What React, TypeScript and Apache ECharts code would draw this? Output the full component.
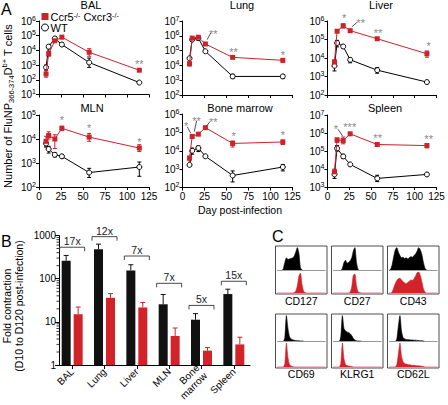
import React, { useEffect, useRef } from "react";
import * as echarts from "echarts";

const FONT = '"Liberation Sans", Arial, Helvetica, sans-serif';
const RED = "#cc2229";
const BRED = "#d2232a";
const GRAY = "#8a8a8a";

const koName = "Ccr5-/- Cxcr3-/-";
const wtName = "WT";

const days = [8, 11, 18, 26, 57, 114];

// BAL
const balKO = [250, 6000, 45000, 80000, 7500, 450];
const balKOLo = [150, 4000, 35000, 62000, 4000, 400];
const balKOHi = [420, 9000, 55000, 100000, 13000, 520];
const balWT = [700, 18000, 65000, 25000, 1500, 65];
const balWTLo = [450, 13000, 50000, 20000, 700, 55];
const balWTHi = [1000, 24000, 80000, 30000, 3000, 75];
const balStars = [[114, 1900]];
const balStarText = ["**"];
const balArrows: number[][] = [];

// Lung
const lungKO = [13000, 700000, 800000, 280000, 35000, 22000];
const lungKOLo = [9000, 550000, 600000, 240000, 30000, 17000];
const lungKOHi = [17000, 850000, 1000000, 320000, 40000, 27000];
const lungWT = [30000, 550000, 700000, 90000, 1800, 1800];
const lungWTLo = [25000, 450000, 500000, 80000, 1300, 1300];
const lungWTHi = [35000, 650000, 900000, 100000, 2500, 2300];
const lungStars = [[35, 2.1e6], [58, 1.2e5], [114, 7.2e4]];
const lungStarText = ["**", "**", "*"];
const lungArrows = [[32, 1.5e6, 28, 5.5e5]];

// Liver
const liverKO = [6000, 280000, 550000, 300000, 110000, 17000];
const liverKOLo = [4500, 240000, 420000, 260000, 100000, 11000];
const liverKOHi = [8000, 320000, 700000, 340000, 120000, 24000];
const liverWT = [3800, 65000, 42000, 8000, 2200, 500];
const liverWTLo = [2000, 40000, 35000, 5500, 1500, 420];
const liverWTHi = [6000, 90000, 50000, 10000, 3000, 580];
const liverStars = [[19, 2.1e6], [38, 1.1e6], [58, 3e5], [116, 6.2e4]];
const liverStarText = ["*", "**", "**", "*"];
const liverArrows = [[33.5, 8.1e5, 28, 4.9e5]];

// MLN
const mlnKO = [8000, 14000, 10000, 28000, 12000, 4200];
const mlnKOLo = [4500, 10000, 4000, 23000, 8000, 3000];
const mlnKOHi = [13000, 20000, 15000, 34000, 17000, 5800];
const mlnWT = [6500, 3800, 2200, 1900, 400, 680];
const mlnWTLo = [5000, 2600, 1800, 1600, 250, 280];
const mlnWTHi = [8000, 5000, 2600, 2200, 600, 1100];
const mlnStars = [[26, 8e4], [57, 3.5e4], [114, 9.8e3]];
const mlnStarText = ["*", "*", "*"];
const mlnArrows: number[][] = [];

// Bone marrow
const bmKO = [4000, 60000, 80000, 180000, 25000, 30000];
const bmKOLo = [2800, 50000, 70000, 160000, 16000, 22000];
const bmKOHi = [5000, 75000, 90000, 200000, 34000, 38000];
const bmWT = [1700, 10000, 14000, 5000, 450, 1300];
const bmWTLo = [1400, 6500, 9000, 4300, 200, 800];
const bmWTHi = [2000, 14000, 18000, 5800, 800, 1800];
const bmStars = [[4, 2.9e5], [16, 5.9e5], [35, 5.2e5], [58, 8.9e4], [114, 9.5e4]];
const bmStarText = ["*", "**", "**", "*", "*"];
const bmArrows = [[5.5, 2e5, 9.3, 8.9e4], [16, 4.3e5, 13.4, 1.1e5], [31, 3.8e5, 27.5, 2.2e5]];

// Spleen
const spKO = [7000, 420000, 380000, 900000, 230000, 200000];
const spKOLo = [4500, 300000, 250000, 800000, 180000, 150000];
const spKOHi = [10000, 500000, 600000, 1000000, 280000, 260000];
const spWT = [5000, 140000, 50000, 18000, 3000, 5000];
const spWTLo = [3000, 100000, 40000, 16000, 2000, 4300];
const spWTHi = [8000, 200000, 65000, 20000, 4500, 6000];
const spStars = [[9.5, 2.2e6], [25.5, 2.8e6], [57.5, 7.7e5], [116, 6.3e5]];
const spStarText = ["*", "***", "**", "**"];
const spArrows = [[12.2, 1.6e6, 17.3, 6.8e5]];

// Panel B
const bCats = ["BAL", "Lung", "Liver", "MLN", "Bone\nmarrow", "Spleen"];
const wtFold = [260, 480, 155, 25.5, 11.2, 44];
const wtFoldErr = [345, 630, 210, 43, 15.5, 57];
const koFold = [15, 36, 21.5, 4.7, 2.15, 3.0];
const koFoldErr = [22, 45, 28, 7.2, 2.55, 4.4];
const foldLabels = ["17x", "12x", "7x", "7x", "5x", "15x"];
const foldBracketY = [535, 940, 335, 78, 24, 87];
const bMinor = [2, 3, 4, 5, 6, 7, 8, 9, 20, 30, 40, 50, 60, 70, 80, 90, 200, 300, 400, 500, 600, 700, 800, 900];

// Panel C histograms (32 bins each, black = top, red = bottom)
const cLabels = ["CD127", "CD27", "CD43", "CD69", "KLRG1", "CD62L"];
const cd127Black = [0, 0, 0, 0, 0.08, 0.35, 0.55, 0.48, 0.5, 0.52, 0.55, 0.62, 0.8, 1, 0.75, 0.12, 0.02, 0, 0, 0, 0, 0, 0, 0, 0, 0, 0, 0, 0, 0, 0, 0];
const cd127Red = [0, 0, 0, 0, 0, 0, 0, 0, 0, 0, 0, 0.02, 0.1, 0.35, 0.8, 0.95, 0.4, 0.08, 0.02, 0, 0, 0, 0, 0, 0, 0, 0, 0, 0, 0, 0, 0];
const cd27Black = [0, 0, 0, 0, 0, 0, 0.1, 0.35, 0.45, 0.32, 0.35, 0.42, 0.55, 0.85, 1, 0.35, 0.05, 0, 0, 0, 0, 0, 0, 0, 0, 0, 0, 0, 0, 0, 0, 0];
const cd27Red = [0, 0, 0, 0, 0, 0, 0, 0, 0, 0, 0, 0.05, 0.3, 0.85, 0.9, 0.35, 0.06, 0.02, 0, 0, 0, 0, 0, 0, 0, 0, 0, 0, 0, 0, 0, 0];
const cd43Black = [0, 0.05, 0.25, 0.6, 0.9, 1, 0.8, 0.65, 0.55, 0.58, 0.52, 0.55, 0.5, 0.56, 0.6, 0.58, 0.65, 0.72, 0.85, 1, 0.9, 0.7, 0.35, 0.1, 0.02, 0, 0, 0, 0, 0, 0, 0];
const cd43Red = [0, 0, 0.05, 0.25, 0.45, 0.6, 0.68, 0.7, 0.62, 0.55, 0.48, 0.45, 0.5, 0.56, 0.62, 0.6, 0.68, 0.82, 0.97, 1, 0.85, 0.55, 0.2, 0.05, 0, 0, 0, 0, 0, 0, 0, 0];
const cd69Black = [0, 0, 0, 0, 0, 0.15, 1, 0.5, 0.18, 0.1, 0.07, 0.05, 0.04, 0.03, 0.03, 0.02, 0.02, 0.01, 0, 0, 0, 0, 0, 0, 0, 0, 0, 0, 0, 0, 0, 0];
const cd69Red = [0, 0, 0, 0, 0, 0.12, 1, 0.4, 0.1, 0.04, 0.02, 0, 0, 0, 0, 0, 0, 0, 0, 0, 0, 0, 0, 0, 0, 0, 0, 0, 0, 0, 0, 0];
const klrg1Black = [0, 0, 0, 0, 0, 0.2, 1, 0.5, 0.4, 0.37, 0.34, 0.3, 0.22, 0.12, 0.06, 0.03, 0.02, 0.02, 0.01, 0, 0, 0, 0, 0, 0, 0, 0, 0, 0, 0, 0, 0];
const klrg1Red = [0, 0, 0, 0, 0, 0.15, 1, 0.35, 0.1, 0.06, 0.04, 0.03, 0.02, 0, 0, 0, 0, 0, 0, 0, 0, 0, 0, 0, 0, 0, 0, 0, 0, 0, 0, 0];
const cd62lBlack = [0, 0, 0, 0, 0, 0.1, 0.6, 1, 0.4, 0.15, 0.1, 0.08, 0.07, 0.07, 0.06, 0.06, 0.05, 0.05, 0.04, 0.04, 0.03, 0.03, 0.02, 0, 0, 0, 0, 0, 0, 0, 0, 0];
const cd62lRed = [0, 0, 0, 0, 0, 0.1, 0.55, 1, 0.45, 0.22, 0.15, 0.12, 0.1, 0.09, 0.08, 0.07, 0.07, 0.06, 0.05, 0.05, 0.04, 0.03, 0.02, 0, 0, 0, 0, 0, 0, 0, 0, 0];

const panels = [
  { title: "BAL", left: 39, top: 21, width: 110, height: 73.5, min: 10, max: 1e6, xLabels: false, tx: 91, ty: 4.5, ko: balKO, koLo: balKOLo, koHi: balKOHi, wt: balWT, wtLo: balWTLo, wtHi: balWTHi, stars: balStars, starText: balStarText, arrows: balArrows },
  { title: "Lung", left: 182.5, top: 21, width: 110, height: 74, min: 100, max: 1e7, xLabels: false, tx: 242, ty: 5, ko: lungKO, koLo: lungKOLo, koHi: lungKOHi, wt: lungWT, wtLo: lungWTLo, wtHi: lungWTHi, stars: lungStars, starText: lungStarText, arrows: lungArrows },
  { title: "Liver", left: 327.5, top: 21, width: 109, height: 74, min: 100, max: 1e6, xLabels: false, tx: 381, ty: 5, ko: liverKO, koLo: liverKOLo, koHi: liverKOHi, wt: liverWT, wtLo: liverWTLo, wtHi: liverWTHi, stars: liverStars, starText: liverStarText, arrows: liverArrows },
  { title: "MLN", left: 39, top: 115, width: 110, height: 72, min: 100, max: 1e5, xLabels: true, tx: 92, ty: 108, ko: mlnKO, koLo: mlnKOLo, koHi: mlnKOHi, wt: mlnWT, wtLo: mlnWTLo, wtHi: mlnWTHi, stars: mlnStars, starText: mlnStarText, arrows: mlnArrows },
  { title: "Bone marrow", left: 182.5, top: 114, width: 110, height: 73.5, min: 100, max: 1e6, xLabels: true, tx: 240, ty: 108, ko: bmKO, koLo: bmKOLo, koHi: bmKOHi, wt: bmWT, wtLo: bmWTLo, wtHi: bmWTHi, stars: bmStars, starText: bmStarText, arrows: bmArrows },
  { title: "Spleen", left: 327.5, top: 115, width: 109, height: 72, min: 1000, max: 1e7, xLabels: true, tx: 385, ty: 108, ko: spKO, koLo: spKOLo, koHi: spKOHi, wt: spWT, wtLo: spWTLo, wtHi: spWTHi, stars: spStars, starText: spStarText, arrows: spArrows },
];

const cBlack = [cd127Black, cd27Black, cd43Black, cd69Black, klrg1Black, cd62lBlack];
const cRed = [cd127Red, cd27Red, cd43Red, cd69Red, klrg1Red, cd62lRed];
const cBoxX = [275.5, 331.5, 387.5];
const cBoxW = 51.5;
const cRows = [
  { y: 246, h: 48, blackH: 23, labelY: 301 },
  { y: 314, h: 54, blackH: 26, labelY: 374 },
];

function txt(text: string, x: number, y: number, size: number, extra: any = {}, rich?: any, rotation = 0) {
  const style: any = {
    text,
    fill: extra.fill || "#000",
    fontSize: size,
    fontFamily: FONT,
    align: extra.align || "center",
    verticalAlign: extra.verticalAlign || "middle",
    textAlign: extra.align || "center",
    textVerticalAlign: extra.verticalAlign || "middle",
  };
  if (extra.lineHeight) style.lineHeight = extra.lineHeight;
  if (rich) style.rich = rich;
  return { type: "text", x, y, rotation, silent: true, style };
}

function errBarSeries(i: number, lo: number[], hi: number[], color: string) {
  return {
    type: "custom",
    xAxisIndex: i,
    yAxisIndex: i,
    silent: true,
    z: 1,
    data: days.map((d, j) => [d, lo[j], hi[j]]),
    encode: { x: 0, y: [1, 2] },
    renderItem: (params: any, api: any) => {
      const x = api.value(0);
      const a = api.coord([x, api.value(1)]);
      const b = api.coord([x, api.value(2)]);
      const st = { stroke: color, lineWidth: 1 };
      return {
        type: "group",
        children: [
          { type: "line", shape: { x1: a[0], y1: a[1], x2: b[0], y2: b[1] }, style: st },
          { type: "line", shape: { x1: a[0] - 2, y1: a[1], x2: a[0] + 2, y2: a[1] }, style: st },
          { type: "line", shape: { x1: b[0] - 2, y1: b[1], x2: b[0] + 2, y2: b[1] }, style: st },
        ],
      };
    },
  };
}

function buildOption() {
  const grid: any[] = [];
  const xAxis: any[] = [];
  const yAxis: any[] = [];
  const series: any[] = [];
  const graphic: any[] = [];
  const axisText = { color: "#000", fontSize: 10, fontFamily: FONT };
  const supRich = { s: { fontSize: 7, fontFamily: FONT, color: "#000", verticalAlign: "top" } };

  panels.forEach((p, i) => {
    grid.push({ left: p.left, top: p.top, width: p.width, height: p.height, outerBoundsMode: "none" });
    xAxis.push({
      type: "value", gridIndex: i, min: 0, max: 125, interval: 25,
      axisLine: { show: true, onZero: false, lineStyle: { color: "#000", width: 1 } },
      axisTick: { show: true, length: 3, lineStyle: { color: "#000", width: 1 } },
      axisLabel: { show: p.xLabels, ...axisText, margin: 4, showMinLabel: true, showMaxLabel: true },
      splitLine: { show: false },
    });
    yAxis.push({
      type: "log", logBase: 10, gridIndex: i, min: p.min, max: p.max,
      axisLine: { show: true, onZero: false, lineStyle: { color: "#000", width: 1 } },
      axisTick: { show: true, length: 3, lineStyle: { color: "#000", width: 1 } },
      axisLabel: {
        ...axisText, margin: 3, lineHeight: 13, showMinLabel: true, showMaxLabel: true,
        formatter: (v: number) => `10{s|${Math.round(Math.log10(v))}}`,
        rich: supRich,
      },
      splitLine: { show: false },
    });
    graphic.push(txt(p.title, p.tx, p.ty, 11));

    series.push(errBarSeries(i, p.wtLo, p.wtHi, "#000"));
    series.push(errBarSeries(i, p.koLo, p.koHi, RED));
    series.push({
      type: "line", name: wtName, xAxisIndex: i, yAxisIndex: i, z: 3,
      data: days.map((d, j) => [d, p.wt[j]]),
      symbol: "circle", symbolSize: 5, showAllSymbol: true,
      itemStyle: { color: "#fff", borderColor: "#000", borderWidth: 1 },
      lineStyle: { color: "#000", width: 1 },
      emphasis: { disabled: true }, silent: true,
    });
    series.push({
      type: "line", name: koName, xAxisIndex: i, yAxisIndex: i, z: 4,
      data: days.map((d, j) => [d, p.ko[j]]),
      symbol: "rect", symbolSize: 5, showAllSymbol: true,
      itemStyle: { color: RED, borderWidth: 0 },
      lineStyle: { color: RED, width: 1 },
      emphasis: { disabled: true }, silent: true,
    });
    series.push({
      type: "custom", xAxisIndex: i, yAxisIndex: i, silent: true, clip: false, z: 5,
      data: p.stars.map((s) => [s[0], s[1]]),
      encode: { x: 0, y: 1 },
      renderItem: (params: any, api: any) => {
        const c = api.coord([api.value(0), api.value(1)]);
        return {
          type: "text", x: c[0], y: c[1] + 2.5,
          style: {
            text: p.starText[params.dataIndex], fill: GRAY, fontSize: 11, fontFamily: FONT,
            align: "center", verticalAlign: "middle", textAlign: "center", textVerticalAlign: "middle",
          },
        };
      },
    });
    if (p.arrows.length) {
      series.push({
        type: "custom", xAxisIndex: i, yAxisIndex: i, silent: true, clip: false, z: 5,
        data: p.arrows,
        encode: { x: [0, 2], y: [1, 3] },
        renderItem: (params: any, api: any) => {
          const a = api.coord([api.value(0), api.value(1)]);
          const b = api.coord([api.value(2), api.value(3)]);
          return { type: "line", shape: { x1: a[0], y1: a[1], x2: b[0], y2: b[1] }, style: { stroke: "#222", lineWidth: 0.8 } };
        },
      });
    }
  });

  // ---- Panel B ----
  const bi = grid.length;
  grid.push({ left: 56, top: 235.5, width: 194, height: 129.5, outerBoundsMode: "none" });
  xAxis.push({
    type: "category", gridIndex: bi, data: bCats,
    axisLine: { show: true, lineStyle: { color: "#000", width: 1 } },
    axisTick: { show: true, alignWithLabel: true, length: 4, lineStyle: { color: "#000" } },
    axisLabel: { ...axisText, rotate: 45, interval: 0, margin: 5, lineHeight: 11 },
    splitLine: { show: false },
  });
  yAxis.push({
    type: "log", logBase: 10, gridIndex: bi, min: 1, max: 1000, offset: -3,
    axisLine: { show: true, onZero: false, lineStyle: { color: "#000", width: 1 } },
    axisTick: { show: true, length: 4, lineStyle: { color: "#000" } },
    axisLabel: { ...axisText, margin: 3, formatter: (v: number) => String(Math.round(v)) },
    splitLine: { show: false },
  });
  series.push({
    type: "bar", xAxisIndex: bi, yAxisIndex: bi, data: wtFold, barWidth: 9, barGap: "33%",
    itemStyle: { color: "#111" }, silent: true, z: 2,
  });
  series.push({
    type: "bar", xAxisIndex: bi, yAxisIndex: bi, data: koFold, barWidth: 9, barGap: "33%",
    itemStyle: { color: BRED }, silent: true, z: 2,
  });
  const barErr = (vals: number[], tops: number[], off: number, color: string) => ({
    type: "custom", xAxisIndex: bi, yAxisIndex: bi, silent: true, z: 1,
    data: vals.map((v, j) => [j, v, tops[j]]),
    encode: { x: 0, y: [1, 2] },
    renderItem: (params: any, api: any) => {
      const j = api.value(0);
      const b = api.coord([j, api.value(1)]);
      const t = api.coord([j, api.value(2)]);
      const x = b[0] + off;
      const st = { stroke: color, lineWidth: 1 };
      return {
        type: "group",
        children: [
          { type: "line", shape: { x1: x, y1: b[1], x2: x, y2: t[1] }, style: st },
          { type: "line", shape: { x1: x - 2.5, y1: t[1], x2: x + 2.5, y2: t[1] }, style: st },
        ],
      };
    },
  });
  series.push(barErr(wtFold, wtFoldErr, -6, "#111"));
  series.push(barErr(koFold, koFoldErr, 6, BRED));
  series.push({
    type: "custom", xAxisIndex: bi, yAxisIndex: bi, silent: true, clip: false, z: 3,
    data: foldBracketY.map((y, j) => [j, y]),
    encode: { x: 0, y: 1 },
    renderItem: (params: any, api: any) => {
      const c = api.coord([api.value(0), api.value(1)]);
      const h = 12.5;
      return {
        type: "group",
        children: [
          {
            type: "polyline",
            shape: { points: [[c[0] - h, c[1] + 4], [c[0] - h, c[1]], [c[0] + h, c[1]], [c[0] + h, c[1] + 4]] },
            style: { stroke: "#333", fill: "none", lineWidth: 0.9 },
          },
          {
            type: "text", x: c[0], y: c[1] - 0.5,
            style: {
              text: foldLabels[params.dataIndex], fill: "#222", fontSize: 10.5, fontFamily: FONT,
              align: "center", verticalAlign: "bottom", textAlign: "center", textVerticalAlign: "bottom",
            },
          },
        ],
      };
    },
  });
  series.push({
    type: "custom", xAxisIndex: bi, yAxisIndex: bi, silent: true, clip: false, z: 3,
    data: bMinor.map((v) => [0, v]),
    encode: { x: 0, y: 1 },
    renderItem: (params: any, api: any) => {
      const c = api.coord([0, api.value(1)]);
      const x0 = params.coordSys.x + 3;
      return { type: "line", shape: { x1: x0 - 2.5, y1: c[1], x2: x0, y2: c[1] }, style: { stroke: "#000", lineWidth: 0.8 } };
    },
  });

  // ---- Panel C ----
  cLabels.forEach((lab, k) => {
    const row = cRows[Math.floor(k / 3)];
    const bx = cBoxX[k % 3];
    graphic.push({
      type: "rect", silent: true,
      shape: { x: bx, y: row.y, width: cBoxW, height: row.h },
      style: { fill: "none", stroke: "#222", lineWidth: 0.8 },
      z: 10,
    });
    graphic.push(txt(lab, bx + cBoxW / 2, row.labelY, 10.5));
    const gTop = grid.length;
    grid.push({ left: bx + 1.5, top: row.y + 1.5, width: cBoxW - 3, height: row.blackH, outerBoundsMode: "none" });
    xAxis.push({ type: "value", gridIndex: gTop, min: 0, max: 31, show: false });
    yAxis.push({ type: "value", gridIndex: gTop, min: 0, max: 1, show: false });
    series.push({
      type: "line", xAxisIndex: gTop, yAxisIndex: gTop, silent: true,
      data: cBlack[k].map((v, j) => [j, v]), symbol: "none", smooth: 0.2,
      lineStyle: { color: "#000", width: 0.6 }, areaStyle: { color: "#000", opacity: 1 },
    });
    const gBot = grid.length;
    const botTop = row.y + 1.5 + row.blackH + 1.5;
    grid.push({ left: bx + 1.5, top: botTop, width: cBoxW - 3, height: row.y + row.h - 1 - botTop, outerBoundsMode: "none" });
    xAxis.push({ type: "value", gridIndex: gBot, min: 0, max: 31, show: false });
    yAxis.push({ type: "value", gridIndex: gBot, min: 0, max: 1, show: false });
    series.push({
      type: "line", xAxisIndex: gBot, yAxisIndex: gBot, silent: true,
      data: cRed[k].map((v, j) => [j, v]), symbol: "none", smooth: 0.2,
      lineStyle: { color: BRED, width: 0.6 }, areaStyle: { color: BRED, opacity: 1 },
    });
  });

  // ---- texts ----
  graphic.push(txt("A", 1, 1, 16, { align: "left", verticalAlign: "top" }));
  graphic.push(txt("B", 1, 233, 16, { align: "left", verticalAlign: "top" }));
  graphic.push(txt("C", 272, 228, 16, { align: "left", verticalAlign: "top" }));
  graphic.push(txt("Day post-infection", 240, 210, 10.5));
  graphic.push(
    txt(
      "Number of FluNP{sub|366-374}D{sup|b+} T cells",
      8, 106, 11, { lineHeight: 15 },
      {
        sub: { fontSize: 7.5, fontFamily: FONT, fill: "#000", verticalAlign: "bottom" },
        sup: { fontSize: 7.5, fontFamily: FONT, fill: "#000", verticalAlign: "top" },
      },
      Math.PI / 2
    )
  );
  graphic.push(txt("Fold contraction\n(D10 to D120 post-infection)", 13, 306, 10.5, { lineHeight: 12 }, undefined, Math.PI / 2));

  return {
    animation: false,
    backgroundColor: "#fff",
    textStyle: { fontFamily: FONT },
    legend: {
      orient: "vertical", left: 41, top: 11, itemWidth: 7, itemHeight: 7, itemGap: 0, padding: 0,
      selectedMode: false,
      data: [
        { name: koName, icon: "rect", itemStyle: { color: RED, borderWidth: 0 } },
        { name: wtName, icon: "circle", itemStyle: { color: "#fff", borderColor: "#000", borderWidth: 1 } },
      ],
      formatter: (n: string) => (n === koName ? "Ccr5{s|-/-} Cxcr3{s|-/-}" : "WT"),
      textStyle: {
        fontSize: 11, fontFamily: FONT, color: "#000", lineHeight: 10, padding: [0, 0, 0, -3],
        rich: { s: { fontSize: 7, fontFamily: FONT, color: "#000", verticalAlign: "top" } },
      },
    },
    grid, xAxis, yAxis, series, graphic,
  };
}

export default function App() {
  const ref = useRef<HTMLDivElement>(null);
  useEffect(() => {
    document.body.style.margin = "0";
    const chart = echarts.init(ref.current as HTMLDivElement, null, { renderer: "svg" });
    chart.setOption(buildOption() as any);
    return () => chart.dispose();
  }, []);
  return <div ref={ref} style={{ position: "absolute", left: 0, top: 0, width: 448, height: 405 }} />;
}
